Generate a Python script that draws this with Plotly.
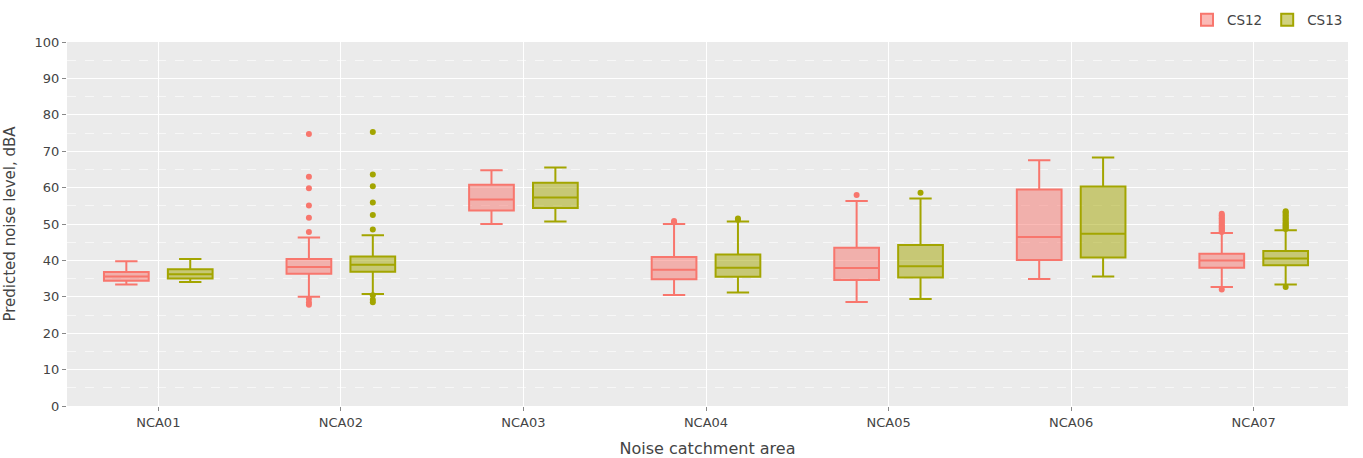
import plotly.graph_objects as go

categories = ["NCA01", "NCA02", "NCA03", "NCA04", "NCA05", "NCA06", "NCA07"]

# CS12 summary statistics
cs12_lower = [33.4, 30.0, 50.0, 30.5, 28.6, 34.9, 32.7]
cs12_q1 = [34.4, 36.3, 53.7, 34.8, 34.6, 40.1, 38.0]
cs12_median = [35.6, 38.2, 56.7, 37.4, 37.9, 46.4, 40.0]
cs12_q3 = [36.8, 40.4, 60.8, 40.9, 43.5, 59.5, 41.8]
cs12_upper = [39.8, 46.3, 64.8, 50.0, 56.3, 67.5, 47.5]
cs12_outliers = [
    [],
    [74.7, 63.0, 59.8, 55.1, 51.7, 47.8, 29.4, 28.4, 27.8],
    [],
    [50.8, 50.5],
    [58.0],
    [],
    [47.8, 48.1, 48.4, 48.7, 49.0, 49.3, 49.6, 50.0, 50.4, 50.8,
     51.2, 51.6, 52.0, 52.4, 52.8, 32.0],
]

# CS13 summary statistics
cs13_lower = [34.1, 30.8, 50.7, 31.2, 29.4, 35.6, 33.4]
cs13_q1 = [35.0, 36.9, 54.4, 35.5, 35.3, 40.8, 38.7]
cs13_median = [36.2, 38.8, 57.3, 38.0, 38.4, 47.3, 40.5]
cs13_q3 = [37.6, 41.1, 61.3, 41.6, 44.2, 60.3, 42.6]
cs13_upper = [40.4, 46.9, 65.5, 50.7, 57.0, 68.3, 48.3]
cs13_outliers = [
    [],
    [75.3, 63.6, 60.4, 55.9, 52.5, 48.5, 30.4, 29.2, 28.5],
    [],
    [51.5, 51.2],
    [58.6],
    [],
    [48.6, 48.9, 49.2, 49.5, 49.8, 50.1, 50.4, 50.8, 51.2, 51.6,
     52.0, 52.4, 52.8, 53.2, 53.5, 32.7],
]

series = [
    ("CS12", "#F8766D", "rgba(248,118,109,0.5)",
     cs12_lower, cs12_q1, cs12_median, cs12_q3, cs12_upper, cs12_outliers),
    ("CS13", "#A3A500", "rgba(163,165,0,0.5)",
     cs13_lower, cs13_q1, cs13_median, cs13_q3, cs13_upper, cs13_outliers),
]

fig = go.Figure()
for name, line_c, fill_c, lo, q1, med, q3, up, outl in series:
    fig.add_trace(go.Box(
        name=name,
        x=categories,
        q1=q1, median=med, q3=q3,
        lowerfence=lo, upperfence=up,
        boxpoints=False,
        line=dict(color=line_c, width=2),
        fillcolor=fill_c,
        offsetgroup=name, legendgroup=name,
    ))

for name, line_c, fill_c, lo, q1, med, q3, up, outl in series:
    ox, oy = [], []
    for cat, vals in zip(categories, outl):
        for v in vals:
            ox.append(cat)
            oy.append(v)
    fig.add_trace(go.Box(
        name=name,
        x=ox, y=oy,
        boxpoints="all", jitter=0, pointpos=0,
        line=dict(color="rgba(0,0,0,0)", width=0),
        fillcolor="rgba(0,0,0,0)",
        marker=dict(color=line_c, size=6),
        offsetgroup=name, legendgroup=name,
        showlegend=False, hoveron="points",
    ))

font_family = "DejaVu Sans, Verdana, sans-serif"
fig.update_layout(
    width=1363, height=458,
    boxmode="group",
    paper_bgcolor="white",
    plot_bgcolor="#EBEBEB",
    font=dict(family=font_family, color="#444", size=13),
    margin=dict(l=67, r=15, t=41.5, b=52, autoexpand=False),
    legend=dict(orientation="h", x=1, xanchor="right",
                yref="container", y=1 - 20 / 458, yanchor="middle",
                font=dict(size=13.5)),
    xaxis=dict(
        title=dict(text="Noise catchment area", font=dict(size=16)),
        showgrid=True, gridcolor="white", gridwidth=1,
        ticks="outside", ticklen=4, tickcolor="#888",
        zeroline=False, automargin=False,
        categoryorder="array", categoryarray=categories,
    ),
    yaxis=dict(
        title=dict(text="Predicted noise level, dBA", font=dict(size=15)),
        range=[0, 100], dtick=10,
        showgrid=True, gridcolor="white", gridwidth=1,
        ticks="outside", ticklen=4, tickcolor="#888",
        zeroline=False, automargin=False,
        minor=dict(dtick=5, showgrid=True, gridcolor="rgba(255,255,255,0.6)",
                   griddash="dash", gridwidth=1),
    ),
)

fig.write_html("out.html")
